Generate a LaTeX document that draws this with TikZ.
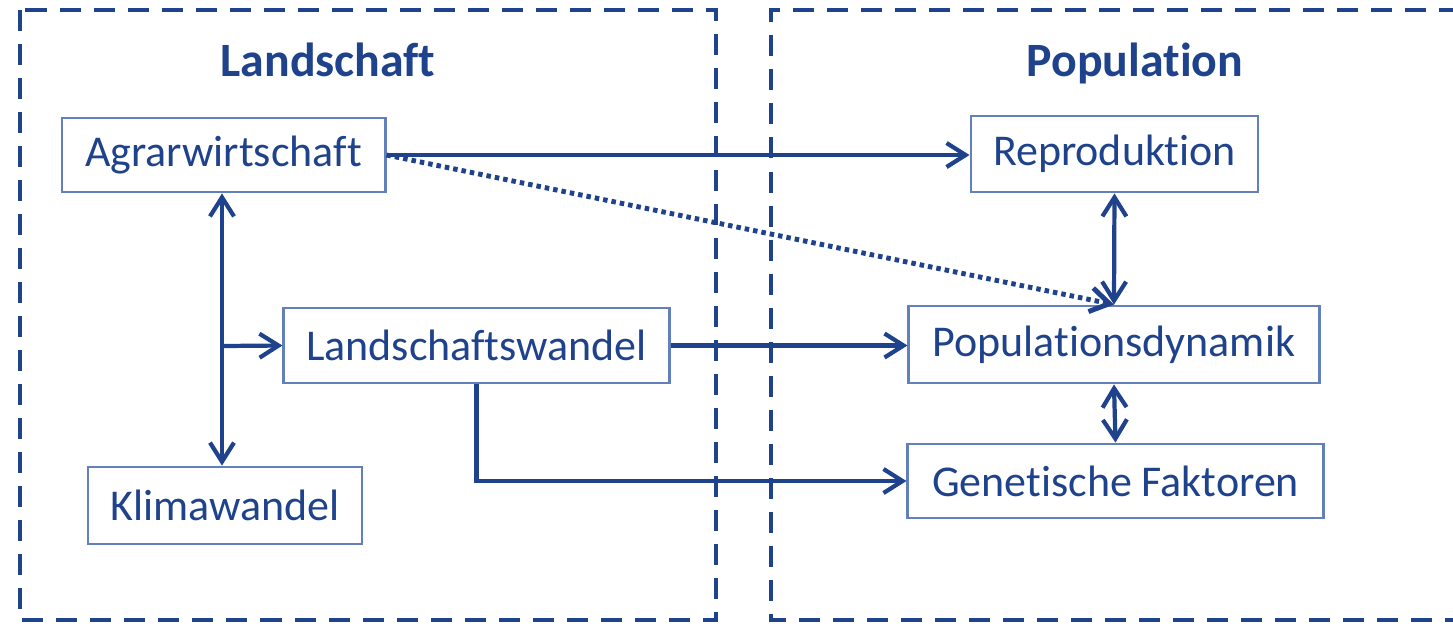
\documentclass[tikz,border=0pt]{standalone}
\usepackage{fontspec}
\setmainfont[Ligatures=NoCommon]{Carlito}
\usetikzlibrary{arrows.meta,positioning}
\definecolor{dunkelblau}{RGB}{31,66,140}
\definecolor{rahmenblau}{RGB}{98,128,188}

\begin{document}
\begin{tikzpicture}[x=0.01cm, y=-0.01cm,
    box/.style={draw=rahmenblau, line width=0.8pt, fill=white, text=dunkelblau,
        font=\fontsize{12.5}{14}\selectfont, inner sep=0pt},
    titel/.style={text=dunkelblau, font=\bfseries\fontsize{13.6}{16}\selectfont, anchor=base},
    rahmen/.style={draw=dunkelblau, line width=1.1pt, dash pattern=on 2.1mm off 1.3mm},
    pfeil/.style={draw=dunkelblau, line width=1.2pt, -{Straight Barb[length=1.9mm,width=2.4mm]}},
    doppel/.style={draw=dunkelblau, line width=1.2pt, {Straight Barb[length=1.9mm,width=2.4mm]}-{Straight Barb[length=1.9mm,width=2.4mm]}},
    punkte/.style={draw=dunkelblau, line width=1.4pt, dash pattern=on 0.45mm off 0.4mm, -{Straight Barb[length=1.9mm,width=2.4mm]}}]
\useasboundingbox (0,0) rectangle (1453,623);

% Rahmen
\draw[rahmen] (20,10) rectangle (716,620);
\draw[rahmen] (1460,10) -- (771,10) -- (771,620) -- (1460,620);

\node[titel] (tland) at (328,76) {Landschaft};
\node[titel] (tpop) at (1135,76) {Population};

% Kaesten
\node[box, minimum width=3.23cm, minimum height=0.74cm] (agrar) at (223.5,155) {Agrarwirtschaft};
\node[box, minimum width=2.87cm, minimum height=0.76cm] (repro) at (1114.5,154) {Reproduktion};
\node[box, minimum width=3.85cm, minimum height=0.75cm] (landw) at (476.5,345.5) {Landschaftswandel};
\node[box, minimum width=4.10cm, minimum height=0.77cm] (popdyn) at (1114,344.5) {Populationsdynamik};
\node[box, minimum width=4.15cm, minimum height=0.74cm] (genet) at (1115.5,481) {Genetische Faktoren};
\node[box, minimum width=2.74cm, minimum height=0.77cm] (klima) at (225,505.5) {Klimawandel};

% Pfeile
\coordinate (knick) at (222,346);
\draw[pfeil] (agrar.east) -- (agrar.east -| repro.west);
\draw[punkte] (agrar.east) -- (popdyn.north);
\draw[doppel] (repro.south) -- (popdyn.north);
\draw[doppel] (popdyn.south) -- (genet.north);
\draw[doppel] (agrar.south -| knick) -- (klima.north -| knick);
\draw[pfeil] (knick) -- (landw.west);
\draw[pfeil] (landw.east) -- (landw.east -| popdyn.west);
\draw[pfeil] (landw.south) |- (genet.west);
\end{tikzpicture}
\end{document}
